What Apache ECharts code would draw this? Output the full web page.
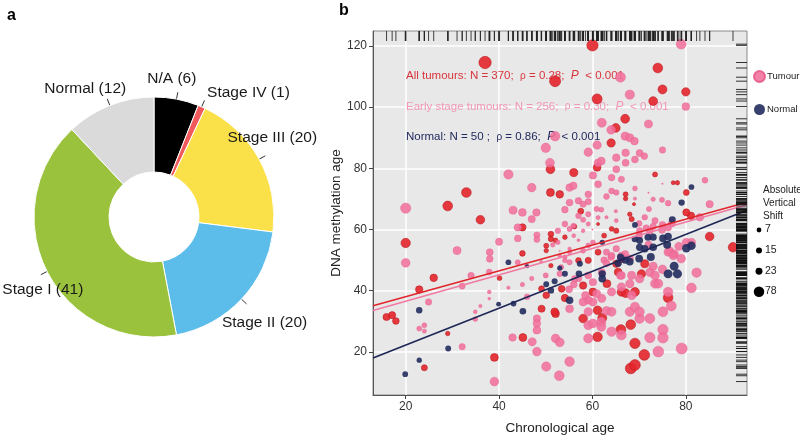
<!DOCTYPE html>
<html><head><meta charset="utf-8">
<script src="https://cdn.jsdelivr.net/npm/echarts@6/dist/echarts.min.js"></script>
<style>html,body{margin:0;padding:0;background:#fff}#c{width:800px;height:440px}</style>
</head><body><div id="c"></div>
<script>
// ---------- panel a : sample composition ----------
const stageNames  = ['N/A', 'Stage IV', 'Stage III', 'Stage II', 'Stage I', 'Normal'];
const stageCounts = [6, 1, 20, 20, 41, 12];
const stageColors = ['#000000', '#F05A5C', '#FAE14A', '#5CBDEB', '#9BC23C', '#DADADA'];

// ---------- panel b : chronological age vs DNA methylation age ----------
const lateTumours = [
 [37,114.6],[60,120.2],[52,108.5],[74,112.8],[75,105.8],[80,105],[61,102.7],[73,102],[67,96.2],[65,93.2],
 [64,88.3],[51,79.7],[56,78.6],[61,80.3],[33,72.1],[51,72.1],[53,71.5],[29,67.7],[36,63.2],[20,55.6],
 [45,60.7],[45,52.2],[50.1,54.7],[50.1,53.1],[51.1,58.5],[51.1,56.9],[52.1,56.4],[51.1,48.2],[26,44.2],[40.1,44.1],
 [22.9,40.4],[15.9,31.4],[17.1,32],[17.9,30.1],[29,26],[24,14.8],[39,18.2],[45.1,24.7],[49.1,34.1],[52.1,32.5],
 [49.1,40.6],[50.1,38.5],[51.9,33.1],[54.1,37.6],[53.4,40.6],[58,30.9],[61.1,33.6],[61.1,24.9],[62.1,31.1],[66.1,27.3],
 [68.2,28.9],[66.2,39.6],[67.1,39.2],[69.1,39.6],[69.1,22.8],[71.1,19],[68.2,14.6],[69.1,15.7],[76.2,37.7],[63.1,42.3],
 [58,41.7],[60.1,39.6],[65.5,46.1],[65.1,48.8],[66.2,50.4],[71.2,48.8],[59.1,49.9],[57,49.9],[61.2,52.6],[56.1,61],
 [54.1,57.5],[61.2,61.8],[64.1,60.2],[65.1,59.6],[68,65],[68.4,63.4],[67.1,71.5],[67.1,70.1],[68.9,68.3],[77.3,75.3],
 [78.2,75.3],[80.1,72.1],[81.1,64.5],[80.1,65.6],[85.1,57.7],[90.1,54.2],[73.4,78],[57.5,66],[62.5,58],[70.5,45.5]
];
const earlyTumours = [
 [79,120.6],[66,109.8],[68,104.1],[80,100.2],[62,94.9],[72,94.5],[64,92.6],[52,90.5],[67,90.5],[68,90],
 [69,88.9],[50,86.7],[61,87.6],[75,86],[59.1,85.3],[67.1,85.1],[70.1,85],[71.1,84],[65.1,83.5],[50.9,81.8],
 [61.2,81.8],[61.9,82.4],[67.1,81.8],[69.1,82.9],[65.1,79.7],[42,78],[60.1,77.7],[64.1,77],[66.2,76.4],[47,73.7],
 [55.1,73.7],[55.9,74.3],[61.2,74.8],[59.1,71.5],[64.1,72.6],[65.1,72.1],[63,70.8],[69.1,73.4],[69.1,70.1],[73,69.9],
 [74.9,69.7],[76.2,68.6],[84.1,76.1],[85.1,68.3],[59.1,69.1],[57,69.4],[58,68.3],[55.1,68.8],[54.1,66.5],[60.9,66.7],
 [61.9,66.5],[20,67],[43,66.3],[45,65.6],[48,65.6],[47,63.4],[44,60.7],[44,57.1],[48.1,58.2],[48.1,56.7],
 [40,56],[31,53.1],[38,52.6],[38,50.4],[20,49.1],[44,49.3],[45.9,48.2],[53.3,47.7],[34,45],[37.9,46.1],
 [32.1,41.5],[24.9,36.3],[22.9,27.6],[24,28.7],[24,26.8],[34.9,33.1],[34.9,30.7],[32.1,21.7],[39,10.3],[37.9,39.6],
 [37.9,37.4],[42.9,24.7],[47.1,23.3],[48.1,20.1],[50.1,15.2],[52.9,12.2],[48.1,30.9],[48.1,29.3],[48.1,27.1],[52.1,24.4],
 [53,23.1],[55.1,16.8],[55.1,34.1],[59.1,28.7],[59.1,24.4],[61.9,29.8],[61.9,28.2],[64.1,26.6],[63,33.4],[59.1,36.9],
 [60.1,36.3],[60.9,39],[58,36.3],[68,33.1],[69.1,34.7],[70.1,30.9],[72.3,24.7],[74.1,20.1],[75.1,27.3],[75.1,24.6],
 [75.1,33.1],[76.9,35],[76.2,39.6],[79.1,21.1],[81.2,40.9],[82.3,45.9],[72.3,46],[73.4,42.3],[74.1,42.3],[70.1,43.9],
 [64.1,39.6],[66.2,41.2],[68.4,45],[68,42.3],[54.1,61.8],[55.1,60.2],[55.9,61.2],[52.6,59.6],[52.6,55.8],[58,59.6],
 [59.1,61.8],[65.1,62.9],[70,62],[71.5,60.5],[73,61],[75,61.5],[77,62],[83,64],[70,58],[72,55],
 [60.1,55.8],[59.1,54.8],[58,53.1],[55.1,52.5],[54.1,51],[62.5,50],[64,51],[63,49],[67,52],[68,50.5],
 [76.5,53],[77.5,52],[78.5,54.5],[81.2,55.8],[79,50.5],[73,48],[75,47],[57,44],[56,42],[55,40.5],
 [62,37.5],[58.5,38.5],[62,46],[66,45],[50,45],[47,44],[45,42],[46,38],[56,58],[57,56.5],
 [60,60],[63,64],[65,66],[72,72],[75,75],[53,53],[51.5,55],[36,35],[42,41],[49,49.5],
 [59.1,65],[57,64.5],[58,63.2],[61.2,63.9],[71.2,64],[72.1,66.7],[73.4,62.9],[70.1,59.6],[72.3,59.6],[74.9,59.9],
 [76.2,60.7],[76.2,52.6],[77.3,51.5],[80.1,55.8],[63,52.6],[64.1,51.5],[65.1,53.7],[66.2,51.5],[55.1,49.3],[54.1,49.9],
 [53,51.5],[55.1,53.7],[53,45.5],[56.2,43.9],[59.1,45],[60.1,42.8],[66.2,45],[73.4,45],[68.4,38.5],[70.1,33.1],
 [72.3,30.9],[59.1,33.1],[64.1,33.1],[60.1,29.3],[66.2,25.5]
];
const normals = [
 [42,49.3],[22.9,33.6],[39.9,35.6],[43.1,35.8],[45.1,33.3],[29.1,21.1],[22.9,17.3],[19.9,12.7],[50.1,42.1],[51.1,40.1],
 [51.9,43.1],[55.1,36.9],[53,47.4],[54.1,45.5],[57.1,45.5],[57.3,48.8],[62.1,45.5],[62.1,43.9],[62.1,55.8],[69.1,61.5],
 [77.1,63.2],[79.1,68.8],[81.2,73.9],[69.1,56.9],[70.1,56.4],[71.9,57.5],[73,57.5],[75.1,57.1],[76.2,57.7],[70.1,54.2],
 [71.2,53.7],[73,54.2],[80.1,53.9],[81.2,54.7],[66,51],[67,50],[68,49.5],[70,50.5],[72.5,51],[76,55],
 [76.2,45.5],[78.2,45.5],[77.5,48],[65.5,49],[46,48]
];
// fitted regression lines (end points)
const fitAll    = [[13,35.1],[93.1,68.9]];
const fitEarly  = [[13,33.5],[93.1,68.1]];
const fitNormal = [[13,18.0],[93.1,66.3]];

const xTicks = [20, 40, 60, 80];
const yTicks = [20, 40, 60, 80, 100, 120];
const X_MIN = 13, X_MAX = 93.1, Y_MIN = 5.9, Y_MAX = 124.9;
const shiftBreaks = [7, 15, 23, 78];

const statLines = [
  {text: 'All tumours: N = 370;  {r|ρ} = 0.28;  {i|P}  < 0.001', color: '#D9343B'},
  {text: 'Early stage tumours: N = 256;  {r|ρ} = 0.30;  {i|P}  < 0.001', color: '#F196B6'},
  {text: 'Normal: N = 50 ;  {r|ρ} = 0.86;  {i|P}  < 0.001', color: '#222A5E'}
];

// ---------- helpers ----------
const FONT = '"Liberation Sans", Arial, sans-serif';
const sizeOf = s => 1.5 + 1.9 * Math.pow(Math.abs(s), 0.4);
const pointSize = v => sizeOf(v[1] - v[0]);
const PIE_C = [154, 217];
const labelShift = [[-6,-14],[44,-8],[7,-18],[18,19],[2,15],[-22,-10]];

const allPts = lateTumours.concat(earlyTumours, normals);
const rugTop = allPts.map(p => [p[0], Y_MAX]);
const rugRight = allPts.map(p => [X_MAX, p[1]]);

const chart = echarts.init(document.getElementById('c'), null, {renderer: 'canvas'});

const graphics = [];
statLines.forEach((s, i) => {
  graphics.push({type: 'text', left: 406, top: 70 + i * 30.5, z: 1,
    style: {text: s.text, fill: s.color, font: '11.5px ' + FONT,
      rich: {i: {fontStyle: 'italic', fill: s.color, fontSize: 12, fontFamily: FONT},
             r: {fill: s.color, fontSize: 10, fontFamily: FONT}}}});
});
graphics.push({type: 'text', left: 763, top: 184,
  style: {text: 'Absolute\nVertical\nShift', fill: '#222', font: '10px ' + FONT, lineHeight: 13}});
shiftBreaks.forEach((b, i) => {
  const cy = 230 + i * 20.6;
  graphics.push({type: 'circle', shape: {cx: 759, cy: cy, r: sizeOf(b) / 2 * 0.85}, style: {fill: '#000'}});
  graphics.push({type: 'text', left: 765, top: cy - 6,
    style: {text: String(b), fill: '#222', font: '10.5px ' + FONT}});
});

const option = {
  animation: false,
  backgroundColor: '#ffffff',
  textStyle: {fontFamily: FONT},
  title: [
    {text: 'a', left: 2, top: 3, textStyle: {fontSize: 16, fontWeight: 'bold', color: '#000', fontFamily: FONT}},
    {text: 'b', left: 334, top: -2, textStyle: {fontSize: 16, fontWeight: 'bold', color: '#000', fontFamily: FONT}}
  ],
  legend: {
    data: ['Tumour', 'Normal'], orient: 'vertical', left: 753, top: 70,
    itemWidth: 11, itemHeight: 11, itemGap: 21, icon: 'circle', padding: 0,
    textStyle: {fontSize: 9.5, color: '#222', fontFamily: FONT, padding: [0, 0, 0, -3]}, selectedMode: false
  },
  grid: {left: 373, top: 31, width: 374, height: 366, show: true,
    backgroundColor: '#E8E8E8', borderColor: '#8a8a8a', borderWidth: 1},
  xAxis: {
    type: 'value', min: X_MIN, max: X_MAX,
    name: 'Chronological age', nameLocation: 'middle', nameGap: 26,
    nameTextStyle: {fontSize: 13.5, color: '#222', fontFamily: FONT},
    axisLine: {show: true, lineStyle: {color: '#555', width: 1}},
    axisTick: {show: true, length: 4, customValues: xTicks, lineStyle: {color: '#444'}},
    axisLabel: {customValues: xTicks, fontSize: 12, color: '#333', margin: 6, fontFamily: FONT},
    splitLine: {show: true, customValues: xTicks, lineStyle: {color: '#ffffff', width: 1.5}}
  },
  yAxis: {
    type: 'value', min: Y_MIN, max: Y_MAX,
    name: 'DNA methylation age', nameLocation: 'middle', nameGap: 30,
    nameTextStyle: {fontSize: 13.5, color: '#222', fontFamily: FONT},
    axisLine: {show: true, lineStyle: {color: '#555', width: 1}},
    axisTick: {show: true, length: 4, customValues: yTicks, lineStyle: {color: '#444'}},
    axisLabel: {customValues: yTicks, fontSize: 12, color: '#333', margin: 6, fontFamily: FONT},
    splitLine: {show: true, customValues: yTicks, lineStyle: {color: '#ffffff', width: 1.5}}
  },
  graphic: graphics,
  series: [
    {
      type: 'pie', name: 'stages', center: PIE_C, radius: [45, 120],
      startAngle: 90, clockwise: true, silent: true,
      itemStyle: {borderColor: '#fff', borderWidth: 1},
      data: stageNames.map((n, i) => ({name: n, value: stageCounts[i], itemStyle: {color: stageColors[i]}})),
      label: {show: true, position: 'outside', formatter: '{b} ({c})', fontSize: 15.5, color: '#1a1a1a',
        fontFamily: FONT, overflow: 'none', width: 200},
      labelLine: {show: true, length: 7, length2: 0, lineStyle: {color: '#333', width: 1}},
      labelLayout: function (p) {
        const pts = p.labelLinePoints;
        if (!pts) return {};
        const p0 = pts[0];
        const dx = p0[0] - PIE_C[0], dy = p0[1] - PIE_C[1];
        const r = Math.sqrt(dx * dx + dy * dy);
        const p1 = [p0[0] + 7 * dx / r, p0[1] + 7 * dy / r];
        const sh = labelShift[p.dataIndex];
        return {x: p1[0] + sh[0], y: p1[1] + sh[1], align: 'center', verticalAlign: 'middle',
          labelLinePoints: [p0, p1, p1]};
      }
    },
    {type: 'scatter', name: 'All tumours', data: lateTumours, symbolSize: pointSize, z: 3,
      itemStyle: {color: '#E4252B', opacity: 0.9, borderColor: '#B8161C', borderWidth: 0.6}},
    {type: 'scatter', name: 'Tumour', data: earlyTumours, symbolSize: pointSize, z: 3,
      itemStyle: {color: '#F0719C', opacity: 0.88, borderColor: '#E65A8A', borderWidth: 0.4}},
    {type: 'scatter', name: 'Normal', data: normals, symbolSize: pointSize, z: 4,
      itemStyle: {color: '#222B5E', opacity: 0.9}},
    {type: 'line', name: 'fitAll', data: fitAll, symbol: 'none', z: 5, silent: true,
      lineStyle: {color: '#E0262C', width: 1.6}},
    {type: 'line', name: 'fitEarly', data: fitEarly, symbol: 'none', z: 5, silent: true,
      lineStyle: {color: '#F07AA2', width: 1.6}},
    {type: 'line', name: 'fitNormal', data: fitNormal, symbol: 'none', z: 5, silent: true,
      lineStyle: {color: '#1F2757', width: 1.6}},
    {type: 'scatter', name: 'rugTop', data: rugTop, symbol: 'rect', symbolSize: [1, 10],
      symbolOffset: [0, 5], clip: false, silent: true, z: 6, itemStyle: {color: '#222', opacity: 0.85}},
    {type: 'scatter', name: 'rugRight', data: rugRight, symbol: 'rect', symbolSize: [11, 1],
      symbolOffset: [-5.5, 0], clip: false, silent: true, z: 6, itemStyle: {color: '#111', opacity: 0.85}}
  ]
};
chart.setOption(option);
</script>
</body></html>
